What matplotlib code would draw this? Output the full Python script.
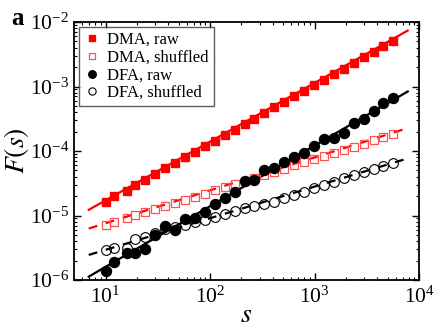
import numpy as np
import matplotlib
matplotlib.use('Agg')
import matplotlib.pyplot as plt

# window sizes s
s = [10, 12, 16, 19, 24, 30, 37, 46, 58, 72, 89, 111, 138, 172, 214,
     266, 331, 412, 513, 638, 794, 988, 1230, 1531, 1905, 2371, 2951,
     3673, 4571, 5689]

dma_raw = [1.64e-5, 2.00e-5, 2.43e-5, 2.97e-5, 3.61e-5, 4.41e-5, 5.37e-5,
           6.55e-5, 7.98e-5, 9.73e-5, 1.19e-4, 1.45e-4, 1.76e-4, 2.15e-4,
           2.62e-4, 3.19e-4, 3.89e-4, 4.74e-4, 5.78e-4, 7.05e-4, 8.59e-4,
           1.05e-3, 1.28e-3, 1.56e-3, 1.90e-3, 2.31e-3, 2.82e-3, 3.44e-3,
           4.19e-3, 5.10e-3]
dma_shuf = [7.19e-6, 8.04e-6, 8.99e-6, 1.005e-5, 1.124e-5, 1.256e-5,
            1.404e-5, 1.570e-5, 1.755e-5, 1.962e-5, 2.193e-5, 2.451e-5,
            2.740e-5, 3.063e-5, 3.424e-5, 3.828e-5, 4.279e-5, 4.784e-5,
            5.348e-5, 5.978e-5, 6.683e-5, 7.471e-5, 8.352e-5, 9.337e-5,
            1.044e-4, 1.167e-4, 1.304e-4, 1.458e-4, 1.630e-4, 1.822e-4]
dfa_raw = [1.39e-6, 1.88e-6, 2.59e-6, 2.59e-6, 3.03e-6, 4.99e-6, 6.87e-6,
           5.96e-6, 8.83e-6, 9.25e-6, 1.146e-5, 1.507e-5, 1.849e-5,
           2.291e-5, 3.428e-5, 3.548e-5, 5.01e-5, 5.40e-5, 6.82e-5,
           8.17e-5, 9.42e-5, 1.197e-4, 1.517e-4, 1.607e-4, 1.923e-4,
           2.685e-4, 3.097e-4, 4.217e-4, 5.50e-4, 6.70e-4]
dfa_shuf = [2.92e-6, 3.19e-6, 3.13e-6, 4.33e-6, 4.69e-6, 5.36e-6, 6.18e-6,
            6.52e-6, 7.13e-6, 7.93e-6, 8.51e-6, 9.38e-6, 1.054e-5,
            1.186e-5, 1.294e-5, 1.403e-5, 1.507e-5, 1.637e-5, 1.849e-5,
            2.080e-5, 2.312e-5, 2.624e-5, 2.972e-5, 3.342e-5, 3.776e-5,
            4.246e-5, 4.775e-5, 5.26e-5, 5.85e-5, 6.44e-5]

# power-law fits F = 10^logA * s^alpha
fit_alpha = [0.91, 0.51, 0.94, 0.49]
fit_logA = [-5.675, -5.63, -6.736, -6.022]
fit_range = [6.9, 7800]

plt.rcParams['font.family'] = ['Liberation Serif', 'DejaVu Serif']
plt.rcParams['mathtext.fontset'] = 'stix'

fig = plt.figure(figsize=(4.36, 3.27), dpi=100)
ax = fig.add_axes([0.17, 0.1437, 0.791, 0.789])

sf = np.logspace(np.log10(fit_range[0]), np.log10(fit_range[1]), 50)
fit_styles = [('red', '-'), ('red', (0, (4, 4))), ('black', '-'), ('black', (0, (4, 4)))]
for (c, ls), a, la in zip(fit_styles, fit_alpha, fit_logA):
    ax.plot(sf, 10**la * sf**a, color=c, ls=ls, lw=1.6, zorder=1)

ax.plot(s, dma_raw, 's', color='red', ms=6, mec='red', label='DMA, raw', zorder=3)
ax.plot(s, dma_shuf, 's', mfc='none', mec='#ff5050', mew=0.9, ms=6.3,
        label='DMA, shuffled', zorder=3)
ax.plot(s, dfa_raw, 'o', color='black', ms=7.2, label='DFA, raw', zorder=3)
ax.plot(s, dfa_shuf, 'o', mfc='none', mec='black', mew=0.8, ms=7,
        label='DFA, shuffled', zorder=3)

ax.set_xscale('log')
ax.set_yscale('log')
ax.set_xlim(5, 1e4)
ax.set_ylim(1e-6, 1e-2)

ax.set_xlabel(r'$s$', fontsize=20, labelpad=-4)
ax.set_ylabel(r'$F(s)$', fontsize=20)
ax.yaxis.set_label_coords(-0.125, 0.5)

ax.tick_params(which='both', direction='in', top=True, right=True, labelsize=15.5)
ax.tick_params(which='major', length=5, width=1)
ax.tick_params(which='minor', length=2.5, width=0.8)
ax.tick_params(axis='x', pad=5)
for sp in ax.spines.values():
    sp.set_linewidth(1.3)

leg = ax.legend(loc='upper left', fontsize=12, frameon=True, fancybox=False,
                borderpad=0.3, handletextpad=0.4, labelspacing=0.1,
                handlelength=1.0, borderaxespad=0.3, markerscale=0.75)
leg.get_frame().set_edgecolor('#333333')
leg.get_frame().set_linewidth(1.0)

fig.text(0.025, 0.925, 'a', fontsize=18, fontweight='bold')

fig.savefig('out.png', dpi=100)
